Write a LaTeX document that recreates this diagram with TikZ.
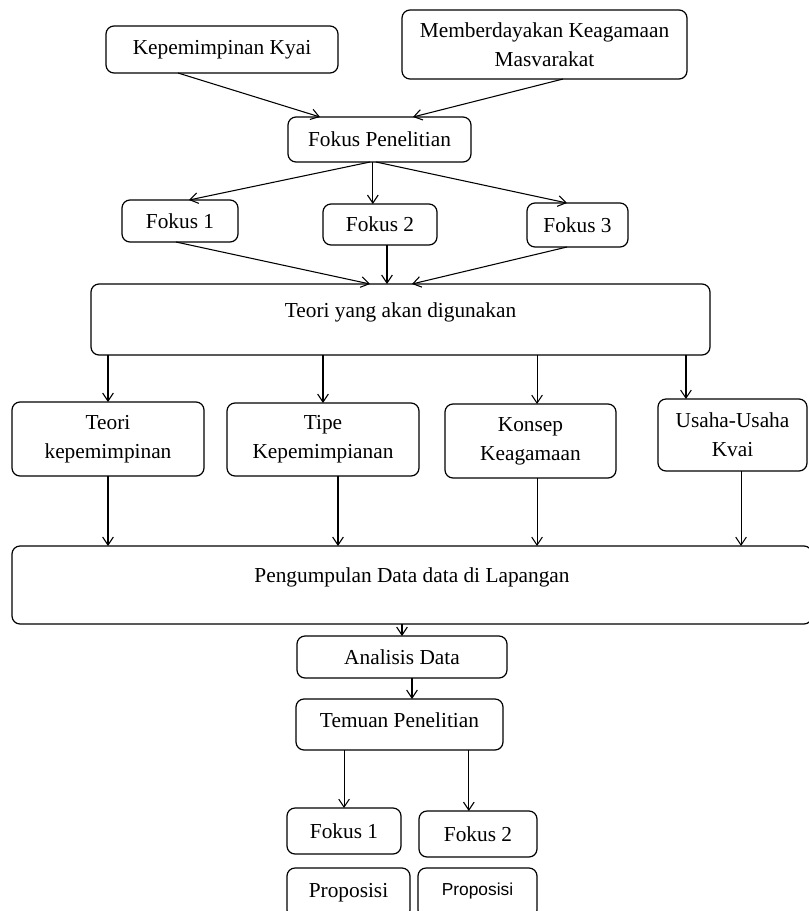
\documentclass[tikz,border=0pt]{standalone}
\usepackage{fontspec}
\setmainfont{Liberation Serif}
\newfontfamily\propfont{Liberation Sans}
\usetikzlibrary{arrows.meta}

\begin{document}
\begin{tikzpicture}[x=0.75pt,y=-0.75pt,
  every node/.style={font=\fontsize{16}{21.75}\selectfont},
  kotak/.style={draw, rounded corners=6pt, line width=0.9pt, align=center, inner sep=0pt, outer sep=0pt},
  panah/.style={-{Straight Barb[length=6pt,width=8pt]}, line width=0.8pt}]
\useasboundingbox (0,0) rectangle (808,911);

\node[kotak, minimum width=174pt, minimum height=35.25pt] (kyai) at (222,49.5) {Kepemimpinan Kyai};
\node[kotak, minimum width=213.75pt, minimum height=51.75pt] (masy) at (544.5,44.5) {Memberdayakan Keagamaan\\Masvarakat};
\node[kotak, minimum width=137.25pt, minimum height=33.75pt] (fokus) at (379.5,139.5) {Fokus Penelitian};

\node[kotak, minimum width=87pt, minimum height=31.5pt] (fa) at (180,221) {Fokus 1};
\node[kotak, minimum width=85.5pt, minimum height=30.75pt] (fb) at (380,224.5) {Fokus 2};
\node[kotak, minimum width=75.75pt, minimum height=33pt] (fc) at (577.5,225) {Fokus 3};

\node[kotak, minimum width=464.25pt, minimum height=53.25pt, text depth=14pt] (teori) at (400.5,319.5) {Teori yang akan digunakan};

\node[kotak, minimum width=144pt, minimum height=55.5pt] (tk) at (108,439) {Teori\\kepemimpinan};
\node[kotak, minimum width=144pt, minimum height=54.75pt] (tipe) at (323,439.5) {Tipe\\Kepemimpianan};
\node[kotak, minimum width=128.25pt, minimum height=55.5pt] (konsep) at (530.5,441) {Konsep\\Keagamaan};
\node[kotak, minimum width=111.75pt, minimum height=54pt] (usaha) at (732.5,435) {Usaha-Usaha\\Kvai};

\node[kotak, minimum width=600pt, minimum height=58.5pt, text depth=14.5pt] (data) at (412,585) {Pengumpulan Data data di Lapangan};
\node[kotak, minimum width=157.5pt, minimum height=31.5pt] (analisis) at (402,657) {Analisis Data};
\node[kotak, minimum width=155.25pt, minimum height=38.25pt, text depth=6pt] (temuan) at (399.5,724.5) {Temuan Penelitian};

\node[kotak, minimum width=85.5pt, minimum height=34.5pt] (ga) at (344,831) {Fokus 1};
\node[kotak, minimum width=88.5pt, minimum height=34.5pt] (gb) at (478,834) {Fokus 2};
\node[kotak, minimum width=92.25pt, minimum height=37.5pt] (pa) at (348.5,893) {Proposisi};
\node[kotak, minimum width=89.25pt, minimum height=37.5pt, font=\propfont\fontsize{13}{16}\selectfont, text depth=6pt] (pb) at (477.5,893) {Proposisi};

\draw[panah] ([xshift=-33pt]kyai.south) -- ([xshift=-44.6pt]fokus.north);
\draw[panah] ([xshift=13.9pt]masy.south) -- ([xshift=25.1pt]fokus.north);
\draw[panah] ([xshift=-7.1pt]fokus.south) -- ([xshift=6.75pt]fa.north);
\draw[panah] ([xshift=-5pt]fokus.south) -- ([xshift=-5pt]fokus.south |- fb.north);
\draw[panah] ([xshift=-2.6pt]fokus.south) -- ([xshift=-7.9pt]fc.north);

\draw[panah] ([xshift=-3pt]fa.south) -- ([xshift=-22.9pt]teori.north);
\draw[panah] ([xshift=5.25pt]fb.south) -- ([xshift=5.25pt]fb.south |- teori.north);
\draw[panah] ([xshift=-7.9pt]fc.south) -- ([xshift=8.6pt]teori.north);

\draw[panah] (teori.south -| tk.north) -- (tk.north);
\draw[panah] (teori.south -| tipe.north) -- (tipe.north);
\draw[panah] ([xshift=4.9pt]teori.south -| konsep.north) -- ([xshift=4.9pt]konsep.north);
\draw[panah] ([xshift=-34.9pt]teori.south -| usaha.north) -- ([xshift=-34.9pt]usaha.north);

\draw[panah] (tk.south) -- (tk.south |- data.north);
\draw[panah] ([xshift=11.25pt]tipe.south) -- ([xshift=11.25pt]tipe.south |- data.north);
\draw[panah] ([xshift=4.9pt]konsep.south) -- ([xshift=4.9pt]konsep.south |- data.north);
\draw[panah] ([xshift=6.4pt]usaha.south) -- ([xshift=6.4pt]usaha.south |- data.north);

\draw[panah] (data.south -| analisis.north) -- (analisis.north);
\draw[panah] ([xshift=7.5pt]analisis.south) -- ([xshift=7.5pt]analisis.south |- temuan.north);
\draw[panah] ([xshift=-41.6pt]temuan.south) -- ([xshift=-41.6pt]temuan.south |- ga.north);
\draw[panah] ([xshift=52pt]temuan.south) -- ([xshift=52pt]temuan.south |- gb.north);
\end{tikzpicture}
\end{document}
